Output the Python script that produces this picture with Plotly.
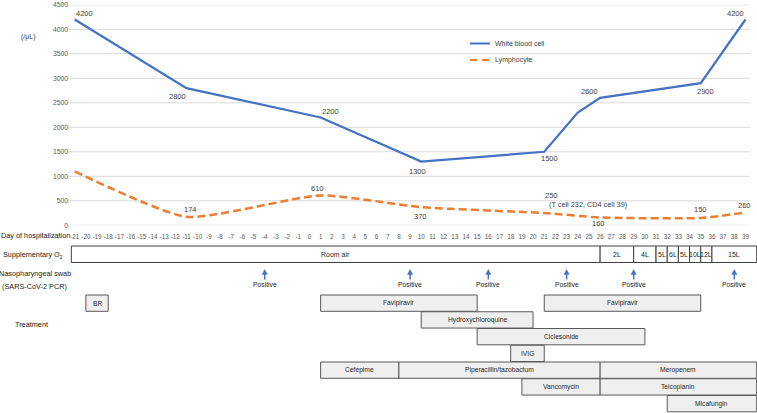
import plotly.graph_objects as go

W, H = 757, 413

# ---------------- data ----------------
days_wbc = [-21, -11, 1, 10, 21, 24, 26, 35, 39]
wbc = [4200, 2800, 2200, 1300, 1500, 2300, 2600, 2900, 4200]
wbc_label = ["4200", "2800", "2200", "1300", "1500", "", "2600", "2900", "4200"]

days_lym = [-21, -11, 1, 10, 21, 26, 35, 39]
lym = [1100, 174, 610, 370, 250, 160, 150, 260]
lym_label = ["", "174", "610", "370", "250", "160", "150", "260"]
lym_note = "(T cell 232, CD4 cell 39)"
lym_note_day = 21

day_ticks = list(range(-21, 40))
y_ticks = list(range(0, 4501, 500))

o2_labels = ["Room air", "2L", "4L", "5L", "6L", "5L", "10L", "12L", "15L"]
o2_start = [-21.3, 26, 29, 31, 32, 33, 34, 35, 36]
o2_end = [26, 29, 31, 32, 33, 34, 35, 36, 40]

swab_days = [-4, 9, 16, 23, 29, 38]
swab_result = ["Positive"] * 6

treat_names = ["BR", "Favipiravir", "Favipiravir", "Hydroxychloroquine", "Ciclesonide",
               "IVIG", "Cefepime", "Piperacillin/tazobactum", "Meropenem",
               "Vancomycin", "Teicoplanin", "Micafungin"]
treat_start = [-20, 1, 21, 10, 15, 18, 1, 8, 26, 19, 26, 32]
treat_end = [-18, 15, 35, 20, 30, 21, 8, 26, 40, 26, 40, 40]
treat_row = [0, 0, 0, 1, 2, 3, 4, 4, 4, 5, 5, 6]

# ---------------- style / layout ----------------
FONT = "Liberation Sans, Arial, sans-serif"
BLUE = "#4472C4"
ORANGE = "#ED7D31"
GRID = "#D9D9D9"
TXT = "#404040"

wbc_off = [(10, 6), (-9, -8), (10, 6), (-4, -10), (5, -7), (0, 0), (-11, 6), (5, -8), (-10, 6)]
lym_off = [(0, 0), (4, 7), (-3, 7), (-1, -9), (7, 18), (-2, -6), (0, 8), (-1, 7)]
note_off = (44, 9)

X_RANGE = [-27.68, 40.03]
GRID_X = [-21.6, 39.4]
PX_PER_DAY = W / (X_RANGE[1] - X_RANGE[0])


def py(p):
    return 1 - p / H


def text_ann(**kw):
    d = dict(showarrow=False, xanchor="center", yanchor="middle")
    d.update(kw)
    return d


fig = go.Figure()

fig.add_trace(go.Scatter(x=days_wbc, y=wbc, mode="lines", name="White blood cell",
                         line=dict(color=BLUE, width=2.2), showlegend=False, hoverinfo="skip"))
fig.add_trace(go.Scatter(x=days_lym, y=lym, mode="lines", name="Lymphocyte",
                         line=dict(color=ORANGE, width=2.5, dash="8px,4px", shape="spline",
                                   smoothing=0.55),
                         showlegend=False, hoverinfo="skip"))

shapes = []
ann = []

# gridlines
for v in y_ticks:
    shapes.append(dict(type="line", xref="x", yref="y", x0=GRID_X[0], x1=GRID_X[1],
                       y0=v, y1=v, line=dict(color=GRID, width=1), layer="below"))

# data labels
for d, v, t, (dx, dy) in zip(days_wbc, wbc, wbc_label, wbc_off):
    if t:
        ann.append(text_ann(x=d, y=v, xref="x", yref="y", text=t, xshift=dx, yshift=dy,
                            font=dict(size=7.5, color=TXT, family=FONT)))
for d, v, t, (dx, dy) in zip(days_lym, lym, lym_label, lym_off):
    if t:
        ann.append(text_ann(x=d, y=v, xref="x", yref="y", text=t, xshift=dx, yshift=dy,
                            font=dict(size=7.5, color=TXT, family=FONT)))
ann.append(text_ann(x=lym_note_day, y=lym[days_lym.index(lym_note_day)], xref="x", yref="y",
                    text=lym_note, xshift=note_off[0], yshift=note_off[1],
                    font=dict(size=7.3, color=TXT, family=FONT)))

# unit label
ann.append(text_ann(x=28 / W, y=py(37), xref="paper", yref="paper", text="(/μL)",
                    font=dict(size=7, color=TXT, family=FONT)))

# manual legend
shapes.append(dict(type="line", xref="paper", yref="paper", x0=470 / W, x1=490 / W,
                   y0=py(43.5), y1=py(43.5), line=dict(color=BLUE, width=2)))
shapes.append(dict(type="line", xref="paper", yref="paper", x0=470 / W, x1=490 / W,
                   y0=py(60), y1=py(60), line=dict(color=ORANGE, width=2, dash="7px,5px")))
ann.append(text_ann(x=493 / W, y=py(43.5), xref="paper", yref="paper", text="White blood cell",
                    xanchor="left", font=dict(size=7, color=TXT, family=FONT)))
ann.append(text_ann(x=493 / W, y=py(60), xref="paper", yref="paper", text="Lymphocyte",
                    xanchor="left", font=dict(size=7, color=TXT, family=FONT)))

# left row labels
left_labels = [("Day of hospitalization", 0, 235.7, "left"),
               ("Supplementary O<sub>2</sub>", 33, 255, "center"),
               ("Nasopharyngeal swab", 35, 273.5, "center"),
               ("(SARS-CoV-2 PCR)", 34, 286, "center"),
               ("Treatment", 31, 324, "center")]
for t, xx, yy, xa in left_labels:
    ann.append(text_ann(x=xx / W, y=py(yy), xref="paper", yref="paper", text=t,
                        xanchor=xa, borderpad=0, font=dict(size=7.3, color="#1a1a1a", family=FONT)))

# supplementary O2 row
O2_TOP, O2_BOT = 246, 262.5
for lab, s, e in zip(o2_labels, o2_start, o2_end):
    shapes.append(dict(type="rect", xref="x", yref="paper", x0=s, x1=e, y0=py(O2_BOT), y1=py(O2_TOP),
                       line=dict(color="#404040", width=1), fillcolor="white"))
    ann.append(text_ann(x=(s + e) / 2, y=py((O2_TOP + O2_BOT) / 2), xref="x", yref="paper", text=lab,
                        font=dict(size=7, color="#262626", family=FONT)))

# swab arrows (shaft + head) and result text
HW = 2.6 / PX_PER_DAY
for d, r in zip(swab_days, swab_result):
    shapes.append(dict(type="line", xref="x", yref="paper", x0=d, x1=d, y0=py(279.5), y1=py(273),
                       line=dict(color=BLUE, width=1.5)))
    shapes.append(dict(type="path", xref="x", yref="paper",
                       path=f"M {d - HW},{py(274.5)} L {d + HW},{py(274.5)} L {d},{py(269.5)} Z",
                       fillcolor=BLUE, line=dict(color=BLUE, width=0.5)))
    ann.append(text_ann(x=d, y=py(284.5), xref="x", yref="paper", text=r,
                        font=dict(size=6.8, color="#262626", family=FONT)))

# treatment boxes
ROW_TOP, ROW_PITCH, ROW_H = 295, 16.75, 16.3
for n, s, e, r in zip(treat_names, treat_start, treat_end, treat_row):
    top = ROW_TOP + r * ROW_PITCH
    bot = top + ROW_H
    shapes.append(dict(type="rect", xref="x", yref="paper", x0=s, x1=e, y0=py(bot), y1=py(top),
                       line=dict(color="#595959", width=1), fillcolor="#EFEFEF"))
    ann.append(text_ann(x=(s + e) / 2, y=py((top + bot) / 2), xref="x", yref="paper", text=n,
                        font=dict(size=6.7, color="#262626", family=FONT)))

fig.update_layout(
    width=W, height=H,
    margin=dict(l=0, r=0, t=0, b=0),
    paper_bgcolor="white", plot_bgcolor="rgba(0,0,0,0)",
    showlegend=False,
    shapes=shapes, annotations=ann,
    font=dict(family=FONT),
    xaxis=dict(domain=[0, 1], range=X_RANGE, autorange=False, showgrid=False, zeroline=False,
               showline=False, tickmode="array", tickvals=day_ticks, tickangle=0,
               ticktext=[str(d) for d in day_ticks], ticks="outside", ticklen=5,
               tickcolor="rgba(0,0,0,0)", tickfont=dict(size=6.3, color="#595959", family=FONT),
               automargin=False),
    yaxis=dict(domain=[1 - 225.3 / H, 1 - 4.8 / H], range=[0, 4500], autorange=False,
               showgrid=False, zeroline=False, showline=False, anchor="free", position=68 / W,
               tickmode="array", tickvals=y_ticks, ticks="", automargin=False,
               tickfont=dict(size=6.8, color="#595959", family=FONT)),
)

fig.write_html("out.html", config={"displayModeBar": False},
               post_script="document.body.style.margin='0';document.body.style.overflow='hidden';")
